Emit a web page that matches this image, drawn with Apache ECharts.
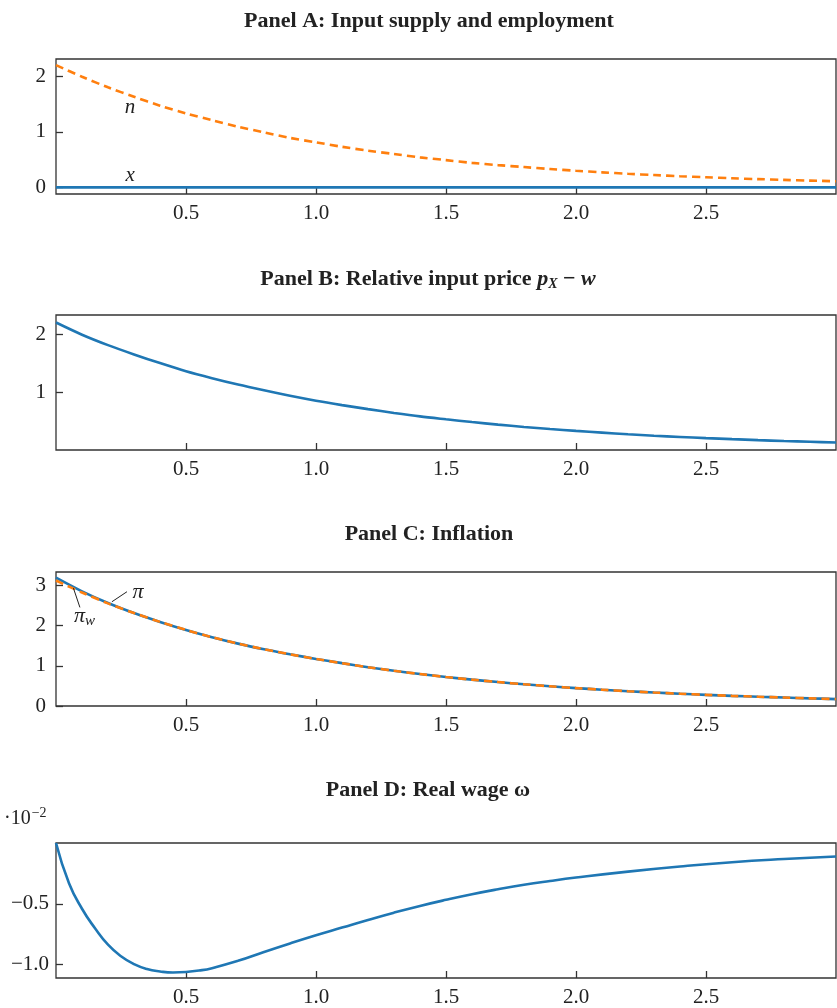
<!DOCTYPE html>
<html>
<head>
<meta charset="utf-8">
<script src="https://cdn.jsdelivr.net/npm/echarts@6/dist/echarts.min.js"></script>
<style>
html,body{margin:0;padding:0;background:#fff;}
#chart{width:837px;height:1008px;}
</style>
</head>
<body>
<div id="chart"></div>
<script>
// ---- data ----
const tGrid = [0,0.1,0.2,0.3,0.4,0.5,0.6,0.7,0.8,0.9,1.0,1.1,1.2,1.3,1.4,1.5,1.6,1.7,1.8,1.9,2.0,2.1,2.2,2.3,2.4,2.5,2.6,2.7,2.8,2.9,3.0];
const nEmployment = [2.20,1.99,1.80,1.63,1.47,1.33,1.21,1.09,0.99,0.89,0.81,0.73,0.66,0.60,0.54,0.49,0.44,0.40,0.365,0.33,0.298,0.27,0.244,0.221,0.20,0.181,0.163,0.148,0.134,0.121,0.11];
const xSupply = [0,0,0,0,0,0,0,0,0,0,0,0,0,0,0,0,0,0,0,0,0,0,0,0,0,0,0,0,0,0,0];
const relPrice = [2.20,1.99,1.81,1.65,1.50,1.36,1.24,1.13,1.03,0.935,0.85,0.775,0.705,0.64,0.58,0.53,0.482,0.438,0.398,0.362,0.33,0.30,0.272,0.247,0.225,0.205,0.187,0.17,0.155,0.142,0.13];
const piInfl = [3.19,2.85,2.56,2.31,2.09,1.89,1.71,1.55,1.41,1.285,1.17,1.065,0.965,0.875,0.795,0.72,0.655,0.595,0.54,0.49,0.445,0.405,0.368,0.335,0.305,0.277,0.252,0.23,0.21,0.19,0.172];
const piWage = [3.12,2.82,2.55,2.31,2.09,1.89,1.71,1.55,1.41,1.285,1.17,1.065,0.965,0.875,0.795,0.72,0.655,0.595,0.54,0.49,0.445,0.405,0.368,0.335,0.305,0.277,0.252,0.23,0.21,0.19,0.172];
const tWage = [0,0.05,0.1,0.15,0.2,0.25,0.3,0.35,0.4,0.45,0.5,0.55,0.6,0.7,0.8,0.9,1.0,1.1,1.2,1.3,1.4,1.5,1.6,1.7,1.8,1.9,2.0,2.2,2.4,2.6,2.8,3.0];
const realWage = [0,-0.33,-0.54,-0.70,-0.835,-0.93,-0.995,-1.035,-1.055,-1.064,-1.06,-1.048,-1.028,-0.968,-0.895,-0.825,-0.758,-0.695,-0.632,-0.572,-0.517,-0.467,-0.421,-0.38,-0.343,-0.312,-0.284,-0.235,-0.193,-0.158,-0.132,-0.111];
const xTicks = [0.5,1.0,1.5,2.0,2.5];
const yTicksA = [0,1,2];
const yTicksB = [1,2];
const yTicksC = [0,1,2,3];
const yTicksD = [-1.0,-0.5];

const BLUE = '#1f77b4', ORANGE = '#ff7f0e', INK = '#222', AX = '#333';
const SERIF = '"Liberation Serif","DejaVu Serif",serif';

function zip(a,b){ return a.map((v,i)=>[v,b[i]]); }

const grids = [
  {left:56, right:1, top:59, height:135},
  {left:56, right:1, top:315, height:135},
  {left:56, right:1, top:572, height:134},
  {left:56, right:1, top:843, height:135}
].map(g=>Object.assign({show:true, borderColor:AX, borderWidth:1.3, backgroundColor:'transparent'}, g));

function xAx(i){
  return {
    type:'value', gridIndex:i, min:0, max:3,
    axisLine:{show:false, onZero:false},
    splitLine:{show:false},
    axisTick:{show:true, inside:true, length:7, customValues:xTicks, lineStyle:{color:AX, width:1.3}},
    axisLabel:{customValues:xTicks, margin:9, color:INK, fontFamily:SERIF, fontSize:21,
      formatter:v=>v.toFixed(1)}
  };
}
function yAx(i,min,max,ticks,fmt,margin){
  return {
    type:'value', gridIndex:i, min:min, max:max,
    axisLine:{show:false},
    splitLine:{show:false},
    axisTick:{show:true, inside:true, length:7, customValues:ticks, lineStyle:{color:AX, width:1.3}},
    axisLabel:{customValues:ticks, margin:margin||10, color:INK, fontFamily:SERIF, fontSize:21,
      formatter:fmt||(v=>String(v))}
  };
}

const titleStyle = {fontFamily:SERIF, fontSize:22, fontWeight:'bold', color:INK};

const leader = {symbol:['none','none'], silent:true, label:{show:false},
  lineStyle:{color:INK, width:1, type:'solid'}, animation:false};

const option = {
  animation:false,
  backgroundColor:'#fff',
  title:[
    {text:'Panel A: Input supply and employment', left:424, top:5, textAlign:'center', textStyle:titleStyle},
    {text:'{b|Panel B: Relative input price }{i|p}{s|X}{b| − }{i|w}', left:423, top:263, textAlign:'center',
      textStyle:{rich:{
        b:{fontFamily:SERIF, fontSize:22, fontWeight:'bold', color:INK},
        i:{fontFamily:SERIF, fontSize:22, fontWeight:'bold', fontStyle:'italic', color:INK},
        s:{fontFamily:SERIF, fontSize:14, fontWeight:'bold', fontStyle:'italic', color:INK, verticalAlign:'bottom', padding:[9,0,0,0]}
      }}},
    {text:'Panel C: Inflation', left:424, top:518, textAlign:'center', textStyle:titleStyle},
    {text:'Panel D: Real wage ω', left:423, top:774, textAlign:'center', textStyle:titleStyle}
  ],
  graphic:[
    {type:'text', left:4, top:806, style:{
      text:'{a|·10}{s|−2}',
      rich:{
        a:{fontFamily:SERIF, fontSize:20, fill:INK},
        s:{fontFamily:SERIF, fontSize:14, fill:INK, verticalAlign:'top', padding:[0,0,12,1]}
      }}}
  ],
  grid:grids,
  xAxis:[xAx(0),xAx(1),xAx(2),xAx(3)],
  yAxis:[
    yAx(0,-0.12,2.31,yTicksA),
    yAx(1,0,2.33,yTicksB),
    yAx(2,0,3.33,yTicksC),
    yAx(3,-1.109,0,yTicksD,v=>(v<0?'−':'')+Math.abs(v).toFixed(1),7)
  ],
  series:[
    {type:'line', name:'x', xAxisIndex:0, yAxisIndex:0, data:zip(tGrid,xSupply), showSymbol:false,
      lineStyle:{color:BLUE, width:2.6}, z:3,
      markPoint:{symbol:'circle', symbolSize:0, silent:true, data:[
        {coord:[0.285,0.22], label:{show:true, formatter:'x', fontFamily:SERIF, fontStyle:'italic', fontSize:21, color:INK, position:'inside'}}
      ]}},
    {type:'line', name:'n', xAxisIndex:0, yAxisIndex:0, data:zip(tGrid,nEmployment), showSymbol:false, smooth:0.3,
      lineStyle:{color:ORANGE, width:2.6, type:[8,5]}, z:4,
      markPoint:{symbol:'circle', symbolSize:0, silent:true, data:[
        {coord:[0.285,1.43], label:{show:true, formatter:'n', fontFamily:SERIF, fontStyle:'italic', fontSize:21, color:INK, position:'inside'}}
      ]}},
    {type:'line', name:'pX-w', xAxisIndex:1, yAxisIndex:1, data:zip(tGrid,relPrice), showSymbol:false, smooth:0.3,
      lineStyle:{color:BLUE, width:2.6}},
    {type:'line', name:'pi', xAxisIndex:2, yAxisIndex:2, data:zip(tGrid,piInfl), showSymbol:false, smooth:0.3,
      lineStyle:{color:BLUE, width:2.6}, z:3,
      markPoint:{symbol:'circle', symbolSize:0, silent:true, data:[
        {coord:[0.315,2.83], label:{show:true, formatter:'π', fontFamily:SERIF, fontStyle:'italic', fontSize:22, color:INK, position:'inside'}},
        {coord:[0.11,2.22], label:{show:true, formatter:'{a|π}{b|w}', fontFamily:SERIF, color:INK, position:'inside',
          rich:{a:{fontFamily:SERIF, fontStyle:'italic', fontSize:22, color:INK}, b:{fontFamily:SERIF, fontStyle:'italic', fontSize:15, color:INK, verticalAlign:'bottom', padding:[8,0,0,0]}}}}
      ]},
      markLine:Object.assign({data:[
        [{coord:[0.215,2.59]},{coord:[0.273,2.84]}],
        [{coord:[0.092,2.45]},{coord:[0.067,2.93]}]
      ]}, leader)},
    {type:'line', name:'pi_w', xAxisIndex:2, yAxisIndex:2, data:zip(tGrid,piWage), showSymbol:false, smooth:0.3,
      lineStyle:{color:ORANGE, width:2.6, type:[8,5]}, z:4},
    {type:'line', name:'omega', xAxisIndex:3, yAxisIndex:3, data:zip(tWage,realWage), showSymbol:false, smooth:0.5,
      lineStyle:{color:BLUE, width:2.6}}
  ]
};

const chart = echarts.init(document.getElementById('chart'), null, {renderer:'canvas'});
chart.setOption(option);
</script>
</body>
</html>
